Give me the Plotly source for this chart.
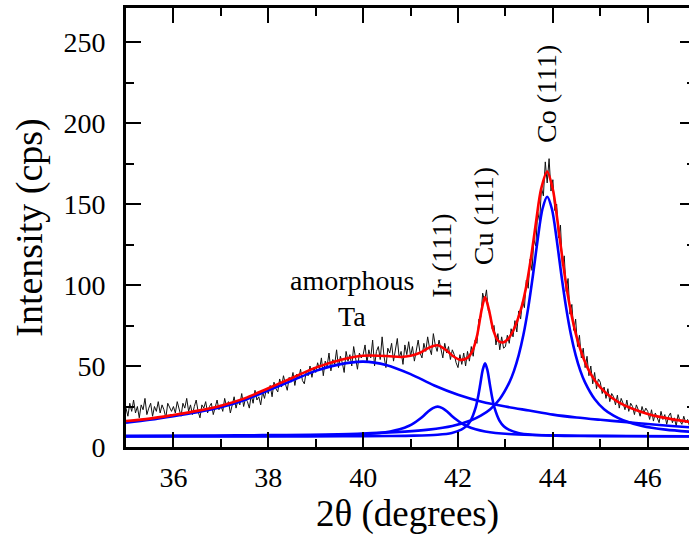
import plotly.graph_objects as go

# ---------------- measured XRD pattern (counts per second), 2theta from 35.00 in 0.04 deg steps
two_theta_start = 35.0
two_theta_step = 0.04
counts = [
    24, 19, 27, 22, 29, 21, 25, 18, 26, 23, 30, 20, 24, 27, 19, 25, 22, 28, 21, 26, 23, 18, 27, 24, 22,
    25, 21, 28, 23, 19, 27, 24, 30, 22, 26, 20, 25, 29, 22, 18, 26, 24, 28, 21, 25, 27, 20, 24, 29, 23,
    26, 22, 30, 25, 28, 21, 27, 31, 24, 29, 26, 33, 25, 30, 28, 24, 32, 27, 35, 29, 31, 26, 34, 30, 36,
    33, 38, 31, 40, 36, 34, 42, 37, 44, 39, 35, 43, 40, 46, 38, 45, 42, 48, 41, 39, 47, 44, 50, 43, 49,
    46, 52, 48, 55, 44, 53, 50, 58, 47, 54, 51, 60, 49, 56, 52, 46, 59, 53, 57, 50, 62, 54, 48, 58, 55,
    57, 63, 52, 60, 55, 66, 50, 59, 62, 54, 68, 56, 49, 61, 58, 64, 53, 60, 67, 55, 59, 51, 63, 57, 65,
    56, 62, 53, 60, 66, 58, 55, 64, 59, 68, 61, 57, 70, 63, 59, 66, 61, 55, 64, 58, 62, 54, 60, 57, 52,
    49, 57, 51, 58, 50, 59, 53, 62, 56, 66, 64, 79, 80, 95, 90, 97, 84, 82, 73, 75, 63, 70, 60, 68, 61,
    62, 69, 64, 73, 68, 78, 71, 84, 79, 90, 86, 103, 98, 116, 109, 128, 124, 145, 139, 160, 155, 176, 163, 178, 158,
    165, 146, 150, 129, 137, 112, 118, 96, 104, 82, 88, 72, 79, 62, 69, 55, 61, 49, 56, 44, 50, 39, 46, 36, 42,
    40, 33, 37, 30, 36, 28, 33, 31, 26, 32, 24, 30, 27, 23, 29, 22, 27, 25, 20, 26, 23, 19, 25, 21, 24,
    22, 17, 23, 16, 21, 18, 15, 22, 17, 20, 14, 19, 21, 15, 18, 13, 20, 16, 14, 19, 15, 17, 13,
]
two_theta = [round(two_theta_start + two_theta_step * i, 2) for i in range(len(counts))]

# ---------------- total fit (red)
fit_x = [35, 35.5, 36, 36.5, 37, 37.5, 38, 38.5, 39, 39.5, 40, 40.5, 40.8, 41.0, 41.2, 41.4,
         41.57, 41.75, 41.9, 42.05, 42.2, 42.3, 42.4, 42.5, 42.57, 42.65, 42.75, 42.85, 42.95,
         43.05, 43.15, 43.25, 43.35, 43.45, 43.55, 43.65, 43.75, 43.88, 44.0, 44.1, 44.2, 44.3,
         44.4, 44.5, 44.65, 44.8, 45.0, 45.25, 45.5, 45.75, 46.0, 46.25, 46.5, 46.88]
fit_total = [16, 17.5, 19.8, 22.3, 25.5, 30, 36.3, 42.6, 49, 53.6, 56.3, 56.2, 55.6, 56.3, 58.2, 61.5,
             62.8, 59.8, 56, 53.8, 55, 59, 68.5, 85, 92.5, 85, 71.5, 65.5, 64.5,
             66.5, 71, 78, 87.5, 101, 119, 140, 159, 170, 159, 139, 116.5, 96.5,
             80.5, 68, 54.5, 45, 36.8, 30.2, 25.8, 22.8, 20.4, 18.6, 17.2, 15.5]

# ---------------- fitted components (blue)
amor_x = [35, 35.5, 36, 36.5, 37, 37.5, 38, 38.5, 39, 39.5, 40, 40.5, 41, 41.5, 42, 42.5, 43,
          43.5, 44, 44.5, 45, 45.5, 46, 46.5, 46.88]
amor_y = [15, 16.8, 19, 21.5, 24.5, 29, 35, 41, 47, 51, 52.7, 50.5, 45, 38, 32.3, 28, 25,
          22.5, 20, 18.2, 16.8, 15.5, 14.2, 13, 12.2]

ir_x = [35, 37.57, 39.57, 40.07, 40.57, 40.77, 40.97, 41.07, 41.17, 41.27, 41.37, 41.47, 41.57,
        41.67, 41.77, 41.87, 41.97, 42.07, 42.17, 42.37, 42.57, 43.07, 43.57, 44.57, 46.88]
ir_y = [6.6, 6.75, 7.4, 8, 9.6, 10.9, 13.1, 14.7, 16.8, 19.2, 21.9, 24.0, 24.9,
        24.0, 21.9, 19.2, 16.8, 14.7, 13.1, 10.9, 9.6, 8, 7.4, 6.9, 6.63]

cu_x = [35, 38.57, 39.57, 40.57, 41.07, 41.57, 41.87, 42.07, 42.17, 42.27, 42.37, 42.42, 42.47,
        42.52, 42.57, 42.62, 42.67, 42.72, 42.77, 42.87, 42.97, 43.07, 43.27, 43.57, 44.07, 44.57,
        45.57, 46.88]
cu_y = [6.5, 6.57, 6.63, 6.8, 7.0, 7.6, 8.7, 10.7, 12.7, 16.5, 24.1, 30.5, 38.9,
        47.5, 51.6, 47.5, 38.9, 30.5, 24.1, 16.5, 12.7, 10.7, 8.7, 7.6, 7.0, 6.8,
        6.63, 6.57]

co_x = [35, 36.88, 37.88, 38.88, 39.88, 40.88, 41.38, 41.88, 42.28, 42.48, 42.68, 42.88, 43.08,
        43.18, 43.28, 43.38, 43.48, 43.58, 43.68, 43.78, 43.88, 43.98, 44.08, 44.18, 44.28, 44.38,
        44.48, 44.58, 44.68, 44.88, 45.08, 45.28, 45.48, 45.88, 46.38, 46.88]
co_y = [6.85, 7.1, 7.3, 7.6, 8.2, 9.5, 10.75, 13, 16.5, 19.3, 23.3, 29.6, 39.7,
        47, 56.7, 69.4, 85.9, 106, 128.2, 146.9, 154.5, 146.9, 128.2, 106, 85.9, 69.4,
        56.7, 47, 39.7, 29.6, 23.3, 19.3, 16.5, 13, 10.75, 9.5]

# ---------------- labels
peak_labels = ["Co (111)", "Cu (111)", "Ir (111)"]
peak_label_x = [43.88, 42.53, 41.66]
peak_label_y = [218, 142.6, 118]

FONT = "Liberation Serif"
X_RANGE = [35, 46.87]
Y_RANGE = [0, 271]

fig = go.Figure()
fig.add_trace(go.Scatter(x=two_theta, y=counts, mode="lines",
                         line=dict(color="#111111", width=1.0), showlegend=False))
for cx, cy in [(amor_x, amor_y), (ir_x, ir_y), (cu_x, cu_y), (co_x, co_y)]:
    fig.add_trace(go.Scatter(x=cx, y=cy, mode="lines",
                             line=dict(color="#0000ff", width=2.6, shape="spline", smoothing=0.8),
                             showlegend=False))
fig.add_trace(go.Scatter(x=fit_x, y=fit_total, mode="lines",
                         line=dict(color="#ff0000", width=2.6, shape="spline", smoothing=0.8),
                         showlegend=False))
# invisible trace to carry the right-hand tick axis
fig.add_trace(go.Scatter(x=[X_RANGE[0]], y=[0], yaxis="y2", mode="markers",
                         marker=dict(opacity=0), showlegend=False, hoverinfo="skip"))

annotations = []
for t, ax, ay in zip(peak_labels, peak_label_x, peak_label_y):
    annotations.append(dict(x=ax, y=ay, xref="x", yref="y", text=t, showarrow=False,
                            textangle=-90, font=dict(family=FONT, size=28, color="black"),
                            xanchor="center", yanchor="middle"))
annotations.append(dict(x=39.77, y=103, xref="x", yref="y", text="amorphous", showarrow=False,
                        font=dict(family=FONT, size=28, color="black"),
                        xanchor="center", yanchor="middle"))
annotations.append(dict(x=39.77, y=80.5, xref="x", yref="y", text="Ta", showarrow=False,
                        font=dict(family=FONT, size=28, color="black"),
                        xanchor="center", yanchor="middle"))

fig.update_layout(
    width=689, height=536,
    margin=dict(l=126, r=0, t=8, b=89, autoexpand=False),
    paper_bgcolor="white", plot_bgcolor="white",
    font=dict(family=FONT, color="black"),
    annotations=annotations,
    xaxis=dict(range=X_RANGE, showgrid=False, zeroline=False, automargin=False,
               showline=True, linecolor="black", linewidth=2.6, mirror="ticks",
               ticks="inside", ticklen=15, tickwidth=2.2, tickcolor="black",
               tick0=36, dtick=2, tickfont=dict(family=FONT, size=28),
               ticklabelstandoff=4,
               minor=dict(ticks="inside", ticklen=8, tickwidth=2.2, dtick=1, tick0=35,
                          tickcolor="black", showgrid=False),
               title=dict(text="2θ (degrees)", font=dict(family=FONT, size=37), standoff=4)),
    yaxis=dict(range=Y_RANGE, showgrid=False, zeroline=False, automargin=False,
               showline=True, linecolor="black", linewidth=2.6, mirror=False,
               ticks="inside", ticklen=15, tickwidth=2.2, tickcolor="black",
               tick0=0, dtick=50, tickfont=dict(family=FONT, size=28),
               ticklabelstandoff=12,
               minor=dict(ticks="inside", ticklen=8, tickwidth=2.2, dtick=25,
                          tickcolor="black", showgrid=False),
               title=dict(text="Intensity (cps)", font=dict(family=FONT, size=38), standoff=10)),
    yaxis2=dict(range=Y_RANGE, overlaying="y", side="right", showgrid=False, zeroline=False,
                automargin=False,
                showline=False, ticks="inside", ticklen=9, tickwidth=2.2, tickcolor="black",
                tick0=0, dtick=50, showticklabels=False,
                minor=dict(ticks="inside", ticklen=2, tickwidth=2.2, dtick=25,
                           tickcolor="black", showgrid=False)),
)

fig.write_html("out.html", config={"displayModeBar": False},
               post_script="document.body.style.margin='0';document.body.style.overflow='hidden';")
